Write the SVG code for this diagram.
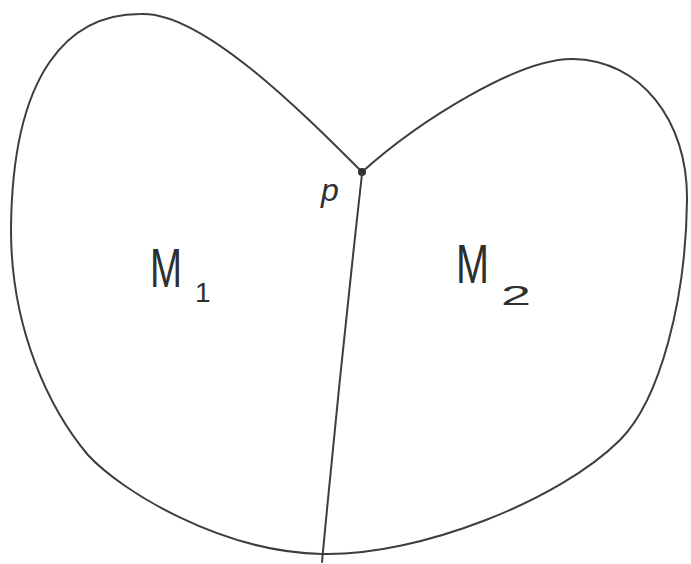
<svg xmlns="http://www.w3.org/2000/svg" width="691" height="564" viewBox="0 0 691 564">
  <style>
    .ink { fill: none; stroke: #3b3f3d; stroke-width: 2; stroke-linecap: round; stroke-linejoin: round; }
    .lbl { font-family: "Liberation Sans", "DejaVu Sans", sans-serif; fill: #2e302f; }
  </style>
  <rect width="691" height="564" fill="#ffffff"/>
  <g id="outline">
    <path class="ink" d="M362,172 C300,110 200,10 140,14 C70,14 12,70 11,230 C11,330 50,410 88,455 C120,490 220,552 322,554 C420,556 560,500 620,440 C660,400 686,300 687,200 C688,120 640,60 573,59 C520,58 420,120 362,172 Z"/>
  </g>
  <g id="M1">
    <text class="lbl" x="150" y="287" font-size="56" textLength="32" lengthAdjust="spacingAndGlyphs">M</text>
    <text class="lbl" x="195" y="302" font-size="28">1</text>
  </g>
  <g id="M2">
    <text class="lbl" x="456" y="283" font-size="56" textLength="33" lengthAdjust="spacingAndGlyphs">M</text>
    <text class="lbl" x="501" y="305" font-size="28" textLength="30" lengthAdjust="spacingAndGlyphs">2</text>
  </g>
  <g id="p">
    <circle cx="362" cy="172" r="4" fill="#2e302f"/>
    <text class="lbl" x="321" y="201" font-size="32" font-style="italic">p</text>
  </g>
  <g id="connectors">
    <path class="ink" d="M362,174 Q340,370 322,562"/>
  </g>
</svg>
